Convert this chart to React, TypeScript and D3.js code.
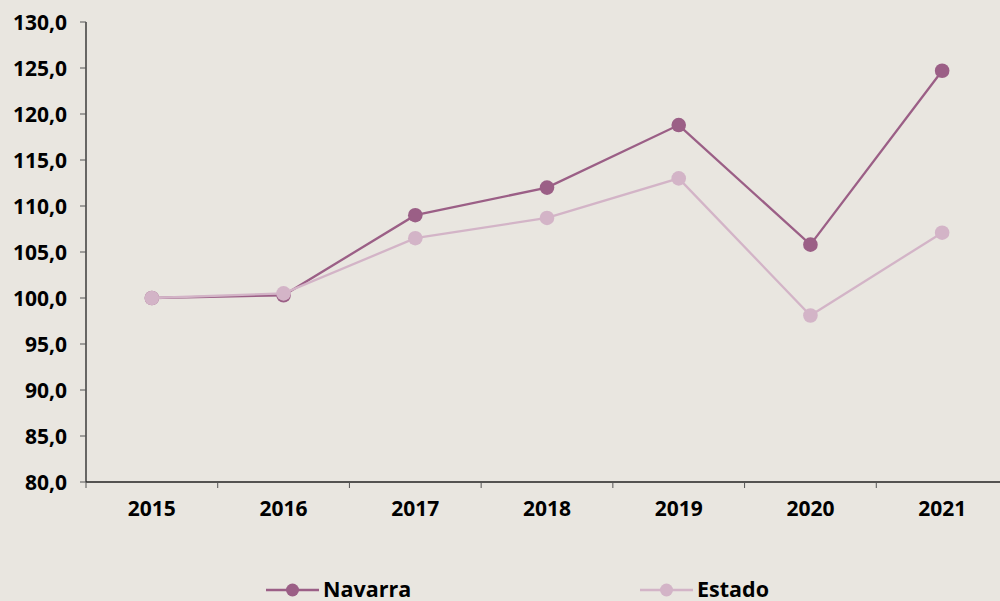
import React from "react";
import * as d3 from "d3";

const years = ["2015", "2016", "2017", "2018", "2019", "2020", "2021"];
const navarra = [100.0, 100.3, 109.0, 112.0, 118.8, 105.8, 124.7];
const estado = [100.0, 100.5, 106.5, 108.7, 113.0, 98.1, 107.1];
const yTicks = [80, 85, 90, 95, 100, 105, 110, 115, 120, 125, 130];
const seriesNames = ["Navarra", "Estado"];
const seriesColors = ["#9b5f86", "#d3b4c7"];

const W = 1000;
const H = 601;
const FONT = "'Open Sans', 'DejaVu Sans', sans-serif";

export default function App() {
  const x = d3.scaleBand<string>().domain(years).range([86, 1008]).padding(0);
  const y = d3.scaleLinear().domain([80, 130]).range([482, 22]);
  const cx = (d: string) => (x(d) ?? 0) + x.bandwidth() / 2;
  const fmt = (v: number) => v.toFixed(1).replace(".", ",");
  const line = d3
    .line<number>()
    .x((_, i) => cx(years[i]))
    .y((v) => y(v));
  const data = [navarra, estado];
  const bounds = [...years.map((d) => x(d) ?? 0), 1008];

  return (
    <svg
      width={W}
      height={H}
      style={{ position: "fixed", left: 0, top: 0, background: "#e9e6e0" }}
    >
      <rect x={0} y={0} width={W} height={H} fill="#e9e6e0" />
      {/* y axis */}
      <line x1={86} x2={86} y1={y(130)} y2={y(80)} stroke="#222" strokeWidth={1.3} />
      {yTicks.map((t) => (
        <g key={t}>
          <line x1={80} x2={86} y1={y(t)} y2={y(t)} stroke="#555" strokeWidth={1} />
          <text
            x={67}
            y={y(t)}
            dy="0.36em"
            textAnchor="end"
            fontFamily={FONT}
            fontWeight={700}
            fontSize={21}
            fill="#000"
          >
            {fmt(t)}
          </text>
        </g>
      ))}
      {/* x axis */}
      <line x1={86} x2={1008} y1={482} y2={482} stroke="#222" strokeWidth={1.3} />
      {bounds.map((b, i) => (
        <line key={i} x1={b} x2={b} y1={482} y2={488} stroke="#555" strokeWidth={1} />
      ))}
      {years.map((d) => (
        <text
          key={d}
          x={cx(d)}
          y={508}
          dy="0.36em"
          textAnchor="middle"
          fontFamily={FONT}
          fontWeight={700}
          fontSize={21}
          fill="#000"
        >
          {d}
        </text>
      ))}
      {/* series */}
      {data.map((vals, si) => (
        <g key={si}>
          <path d={line(vals) ?? ""} fill="none" stroke={seriesColors[si]} strokeWidth={2.3} />
          {vals.map((v, i) => (
            <circle key={i} cx={cx(years[i])} cy={y(v)} r={7.3} fill={seriesColors[si]} />
          ))}
        </g>
      ))}
      {/* legend */}
      {seriesNames.map((n, si) => {
        const lx = si === 0 ? 266 : 640;
        return (
          <g key={n} transform={`translate(${lx},590)`}>
            <line x1={0} x2={53} y1={0} y2={0} stroke={seriesColors[si]} strokeWidth={2.3} />
            <circle cx={26.5} cy={0} r={6.5} fill={seriesColors[si]} />
            <text
              x={57}
              y={0}
              dy="0.34em"
              fontFamily={FONT}
              fontWeight={700}
              fontSize={21.5}
              fill="#000"
            >
              {n}
            </text>
          </g>
        );
      })}
    </svg>
  );
}
